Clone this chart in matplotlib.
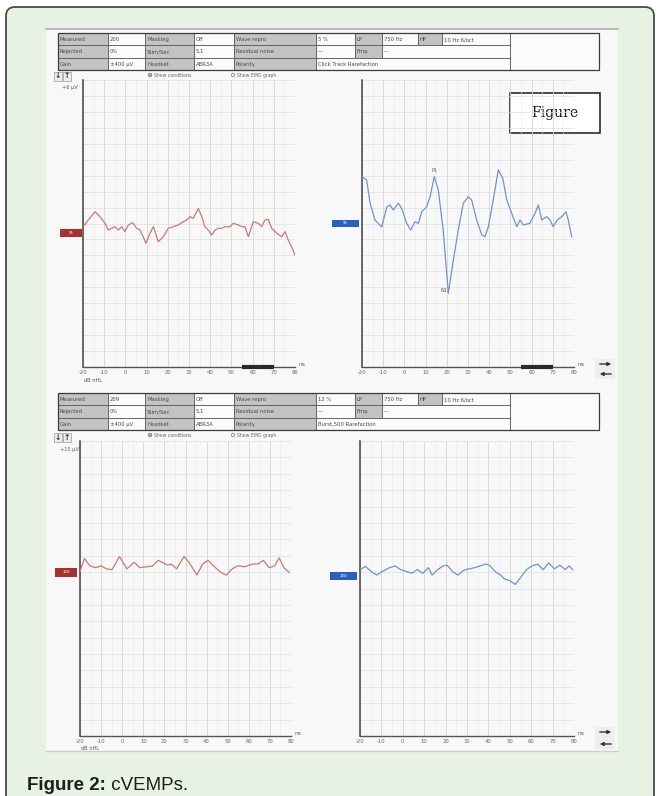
import numpy as np
import matplotlib
matplotlib.use("Agg")
import matplotlib.pyplot as plt
from matplotlib.patches import Rectangle, FancyBboxPatch, Circle
from matplotlib.transforms import blended_transform_factory

# ---------------- data ----------------
ms_ticks = [-20, -10, 0, 10, 20, 30, 40, 50, 60, 70, 80]
ms_tick_labels = [str(t) for t in ms_ticks]

# Click stimulus, left side (red trace)
click_left_ms = [-19.9, -17.5, -14.3, -12.0, -9.6, -8.1, -6.5, -4.9, -3.3, -1.7,
                 -0.2, 1.4, 3.4, 5.3, 6.9, 8.4, 9.7, 11.6, 13.2, 15.5,
                 17.9, 20.2, 22.6, 25.0, 27.3, 28.9, 30.5, 32.0, 34.4, 36.0,
                 37.5, 39.1, 40.7, 42.3, 43.8, 45.4, 47.0, 49.3, 50.9, 53.3,
                 54.9, 56.4, 58.0, 60.3, 62.7, 64.3, 65.8, 67.4, 69.0, 71.4,
                 73.7, 75.3, 76.8, 78.4, 80.0]
click_left_uv = [-0.20, 0.22, 0.74, 0.43, 0.01, -0.41, -0.30, -0.20, -0.41, -0.20,
                 -0.51, -0.09, 0.05, -0.30, -0.41, -0.83, -1.24, -0.61, -0.20, -1.14,
                 -0.83, -0.30, -0.20, -0.09, 0.11, 0.22, 0.43, 0.33, 0.95, 0.43,
                 -0.20, -0.41, -0.72, -0.41, -0.30, -0.30, -0.20, -0.20, 0.01, -0.09,
                 -0.20, -0.20, -0.83, 0.11, 0.01, -0.20, 0.22, 0.26, -0.30, -0.61,
                 -0.83, -0.51, -1.04, -1.46, -1.98]

# Click stimulus, right side (blue trace)
click_right_ms = [-20.0, -17.8, -16.2, -13.9, -10.7, -8.3, -6.8, -5.2, -2.9, -1.3,
                  1.1, 3.0, 5.0, 6.6, 8.2, 10.5, 12.1, 14.1, 16.0, 18.3,
                  20.7, 23.1, 25.4, 27.8, 30.1, 31.7, 34.1, 36.5, 38.0, 39.6,
                  41.9, 44.3, 46.4, 48.3, 50.6, 53.0, 54.5, 56.1, 59.2, 61.6,
                  63.2, 64.8, 67.1, 68.7, 70.2, 72.1, 74.2, 76.2, 77.3, 78.9]
click_right_uv = [2.94, 2.73, 1.29, 0.22, -0.22, 1.04, 1.16, 0.85, 1.27, 0.95,
                  0.01, -0.41, 0.11, 0.01, 0.74, 1.05, 1.68, 2.94, 2.10, -0.41,
                  -4.38, -2.29, -0.41, 1.27, 1.68, 1.47, 0.22, -0.72, -0.83, -0.20,
                  1.47, 3.36, 2.84, 1.47, 0.64, -0.20, 0.22, -0.09, 0.01, 0.64,
                  1.16, 0.22, 0.43, 0.22, -0.20, 0.22, 0.43, 0.74, 0.22, -0.83]

# 500 Hz burst, left side (red trace)
burst_left_ms = [-20.0, -17.9, -15.3, -12.7, -10.0, -7.4, -4.8, -1.3, 2.2, 5.7,
                 8.3, 11.8, 14.4, 17.1, 18.8, 21.4, 23.2, 25.8, 29.3, 31.9,
                 35.4, 38.1, 40.7, 43.3, 46.8, 49.4, 52.1, 54.7, 58.2, 61.7,
                 64.3, 66.9, 69.6, 72.2, 74.4, 76.6, 79.2]
burst_left_uv = [1.04, 1.83, 1.38, 1.27, 1.38, 1.20, 1.15, 1.95, 1.20, 1.60,
                 1.27, 1.33, 1.38, 1.72, 1.60, 1.42, 1.49, 1.20, 1.95, 1.56,
                 0.82, 1.49, 1.72, 1.38, 0.97, 0.82, 1.20, 1.38, 1.33, 1.49,
                 1.49, 1.72, 1.27, 1.38, 1.87, 1.27, 0.97]

# 500 Hz burst, right side (blue trace)
burst_right_ms = [-20.0, -17.4, -14.8, -12.2, -9.6, -6.2, -3.6, -1.0, 1.6, 4.2,
                  6.8, 9.4, 12.0, 13.7, 16.3, 18.9, 20.7, 23.2, 25.8, 28.4,
                  31.0, 33.6, 36.2, 38.8, 40.5, 43.1, 45.7, 47.4, 50.0, 52.6,
                  55.2, 57.8, 60.4, 63.0, 65.6, 68.2, 70.8, 73.4, 75.9, 77.7, 79.4]
burst_right_uv = [1.15, 1.34, 1.04, 0.82, 1.04, 1.27, 1.38, 1.15, 1.04, 0.93,
                  1.15, 0.93, 1.27, 0.82, 1.15, 1.38, 1.42, 1.04, 0.82, 1.11,
                  1.20, 1.27, 1.38, 1.49, 1.42, 1.04, 0.82, 0.59, 0.48, 0.25,
                  0.70, 1.15, 1.38, 1.49, 1.15, 1.56, 1.20, 1.42, 1.15, 1.38, 1.15]

# stimulus level markers (dB nHL) and their baselines
level_labels = ["95", "95", "100", "100"]
level_baselines = [-0.6, 0.0, 0.98, 0.76]

# wave labels on the click response
wave_names = ["P1", "N1"]
wave_ms = [14.1, 20.7]
wave_uv = [2.94, -4.38]

scale_labels = ["+6 µV", "+10 µV"]

# parameter tables
click_row1 = ["Measured", "200", "Masking", "Off", "Wave repro", "5 %", "LP", "750 Hz", "HP", "10 Hz 6/oct"]
click_row2 = ["Rejected", "0%", "Stim/Sec", "5.1", "Residual noise", "---", "Fmp", "---"]
click_row3 = ["Gain", "±400 µV", "Headset", "ABR3A", "Polarity", "Click Track Rarefaction"]
burst_row1 = ["Measured", "209", "Masking", "Off", "Wave repro", "12 %", "LP", "750 Hz", "HP", "10 Hz 6/oct"]
burst_row2 = ["Rejected", "0%", "Stim/Sec", "5.1", "Residual noise", "---", "Fmp", "---"]
burst_row3 = ["Gain", "±400 µV", "Headset", "ABR3A", "Polarity", "Burst,500 Rarefaction"]

# ---------------- figure ----------------
W, H = 660, 796
fig = plt.figure(figsize=(W / 100, H / 100), dpi=100)
bg = fig.add_axes([0, 0, 1, 1])
bg.set_xlim(0, W)
bg.set_ylim(H, 0)
bg.axis("off")

# outer frame
bg.add_patch(FancyBboxPatch((6, 7), 648, 840, boxstyle="round,pad=0,rounding_size=9",
                            fc="#e7f2e4", ec="#4a4a4a", lw=1.3, zorder=0))
# scanned page
bg.add_patch(Rectangle((46, 28), 572, 724, fc="#f8f8f8", ec="none", zorder=1))
bg.plot([46, 618], [29, 29], color="#b5b5b5", lw=1.3, zorder=2)
bg.plot([46, 618], [751, 751], color="#cfcfcf", lw=1.0, zorder=2)

# caption
cap = bg.text(27, 786, "Figure 2:", fontsize=13.5, fontweight="bold",
              family="Liberation Sans", color="#1e1e1e", va="center", zorder=5)
bg.annotate(" cVEMPs.", xy=(1, 0), xycoords=cap, va="bottom", ha="left",
            fontsize=13.5, family="Liberation Sans", color="#1e1e1e", zorder=5)

col_edges = [58, 108, 145, 193.5, 234, 315.6, 354.5, 382, 417.5, 441.5, 510, 599]
row_spans = [
    [(0, 1, 1), (1, 2, 0), (2, 3, 1), (3, 4, 0), (4, 5, 1), (5, 6, 0), (6, 7, 1), (7, 8, 0), (8, 9, 1), (9, 10, 0)],
    [(0, 1, 1), (1, 2, 0), (2, 3, 1), (3, 4, 0), (4, 5, 1), (5, 6, 0), (6, 7, 1), (7, 10, 0)],
    [(0, 1, 1), (1, 2, 0), (2, 3, 1), (3, 4, 0), (4, 5, 1), (5, 10, 0)],
]


def draw_table(top, rows):
    rh = 12.3
    for r, (spans, texts) in enumerate(zip(row_spans, rows)):
        y = top + r * rh
        for (c0, c1, is_label), txt in zip(spans, texts):
            x0, x1 = col_edges[c0], col_edges[c1]
            bg.add_patch(Rectangle((x0, y), x1 - x0, rh,
                                   fc="#c3c3c3" if is_label else "#fbfbfb",
                                   ec="#5a5a5a", lw=0.6, zorder=3))
            bg.text(x0 + 2, y + rh / 2 + 0.5, txt, fontsize=3.8, color="#4a4a4a",
                    va="center", ha="left", zorder=4)
    bg.add_patch(Rectangle((col_edges[10], top), col_edges[11] - col_edges[10], 3 * rh,
                           fc="#fbfbfb", ec="#5a5a5a", lw=0.6, zorder=3))
    bg.add_patch(Rectangle((col_edges[0], top), col_edges[11] - col_edges[0], 3 * rh,
                           fc="none", ec="#3a3a3a", lw=0.9, zorder=4))
    # radio options
    ry = top + 42
    for x, label, filled in [(150, "Show conditions", True), (233, "Show EMG graph", False)]:
        bg.add_patch(Circle((x, ry), 1.8, fc="#9fb59f" if filled else "white",
                            ec="#777777", lw=0.5, zorder=4))
        bg.text(x + 4, ry + 0.3, label, fontsize=3.3, color="#666666", va="center", zorder=4)


def draw_buttons(cy):
    for x, sym in [(54, "↓"), (63, "↑")]:
        bg.add_patch(Rectangle((x, cy - 4.5), 8, 9, fc="#ececec", ec="#9a9a9a", lw=0.5, zorder=3))
        bg.text(x + 4, cy, sym, fontsize=5.5, color="#333333", ha="center", va="center",
                fontweight="bold", zorder=4)


def draw_side_arrows(y_right, y_left):
    bg.add_patch(Rectangle((595, y_right - 5), 20, y_left - y_right + 10, fc="#eeeeee",
                           ec="none", zorder=3))
    bg.annotate("", xy=(614, y_right), xytext=(597, y_right),
                arrowprops=dict(arrowstyle="-|>", lw=1.0, color="#333333", mutation_scale=5),
                zorder=4)
    bg.annotate("", xy=(597, y_left), xytext=(614, y_left),
                arrowprops=dict(arrowstyle="-|>", lw=1.0, color="#333333", mutation_scale=5),
                zorder=4)


draw_table(33, [click_row1, click_row2, click_row3])
draw_table(393, [burst_row1, burst_row2, burst_row3])
draw_buttons(76)
draw_buttons(437)
draw_side_arrows(364, 374)
draw_side_arrows(732, 744)

bg.text(62, 87, scale_labels[0], fontsize=3.6, color="#555555", va="center", zorder=4)
bg.text(60, 449, scale_labels[1], fontsize=3.6, color="#555555", va="center", zorder=4)
bg.text(84, 380, "dB nHL", fontsize=3.6, color="#555555", va="center", zorder=4)
bg.text(81, 748, "dB nHL", fontsize=3.6, color="#555555", va="center", zorder=4)

# "Figure" note box
bg.add_patch(Rectangle((510, 93), 90, 40, fc="white", ec="#1a1a1a", lw=1.1, zorder=6))
bg.text(555, 113, "Figure", family="DejaVu Serif", fontsize=10, color="#1a1a1a",
        ha="center", va="center", zorder=7)


# ---------------- waveform panels ----------------
def px_axes(x0, y0, x1, y1):
    return fig.add_axes([x0 / W, 1 - y1 / H, (x1 - x0) / W, (y1 - y0) / H])


def setup_panel(ax, analysis_bar):
    ax.set_facecolor("none")
    ax.set_xlim(-20, 80)
    ax.set_ylim(-9, 9)
    for x in range(-20, 81, 5):
        major = x % 10 == 0
        ax.axvline(x, color="#d6d6d6" if major else "#eaeaea", lw=0.6 if major else 0.4, zorder=0)
    for y in np.arange(-9, 9.01, 1.0):
        ax.axhline(y, color="#dfdfdf", lw=0.5, zorder=0)
    for s in ["top", "right"]:
        ax.spines[s].set_visible(False)
    ax.spines["left"].set_color("#444444")
    ax.spines["left"].set_linewidth(1.1)
    ax.spines["bottom"].set_color("#555555")
    ax.spines["bottom"].set_linewidth(1.0)
    ax.set_xticks(ms_ticks)
    ax.set_xticklabels(ms_tick_labels, fontsize=3.8, color="#666666")
    ax.tick_params(axis="x", length=0, pad=2.5)
    ax.set_yticks([])
    ax.text(81.5, -9, "ms", fontsize=3.3, color="#666666", va="bottom", ha="left", clip_on=False)
    if analysis_bar:
        ax.plot([55, 70], [-9, -9], color="#2a2a2a", lw=3, solid_capstyle="butt",
                clip_on=False, zorder=5)


def level_marker(ax, x0, x1, base, text, color):
    tr = blended_transform_factory(bg.transData, ax.transData)
    ax.add_patch(Rectangle((x0, base - 0.25), x1 - x0, 0.5, transform=tr, fc=color,
                           ec="none", clip_on=False, zorder=5))
    ax.text((x0 + x1) / 2, base, text, transform=tr, fontsize=2.8, color="white",
            ha="center", va="center", clip_on=False, zorder=6)


red_line = "#cc7a74"
blue_line = "#6f93d3"
red_box = "#a8322f"
blue_box = "#2b5fc2"

ax1 = px_axes(83, 80, 295, 367)
setup_panel(ax1, True)
ax1.plot(click_left_ms, click_left_uv, color=red_line, lw=0.9, zorder=3)
level_marker(ax1, 60, 82, level_baselines[0], level_labels[0], red_box)

ax2 = px_axes(362, 80, 574, 367)
setup_panel(ax2, True)
ax2.plot(click_right_ms, click_right_uv, color=blue_line, lw=0.9, zorder=3)
level_marker(ax2, 332, 359, level_baselines[1], level_labels[1], blue_box)
ax2.text(wave_ms[0], wave_uv[0] + 0.25, wave_names[0], fontsize=3.5, color="#4a5a80",
         ha="center", va="bottom", zorder=4)
ax2.text(wave_ms[1] - 0.6, wave_uv[1] + 0.2, wave_names[1], fontsize=3.5, color="#4a5a80",
         ha="right", va="center", zorder=4)

ax3 = px_axes(80, 441, 291, 736)
setup_panel(ax3, False)
ax3.plot(burst_left_ms, burst_left_uv, color=red_line, lw=0.9, zorder=3)
level_marker(ax3, 55, 77, level_baselines[2], level_labels[2], red_box)

ax4 = px_axes(360, 441, 574, 736)
setup_panel(ax4, False)
ax4.plot(burst_right_ms, burst_right_uv, color=blue_line, lw=0.9, zorder=3)
level_marker(ax4, 330, 357, level_baselines[3], level_labels[3], blue_box)

fig.savefig("out.png", dpi=100)
